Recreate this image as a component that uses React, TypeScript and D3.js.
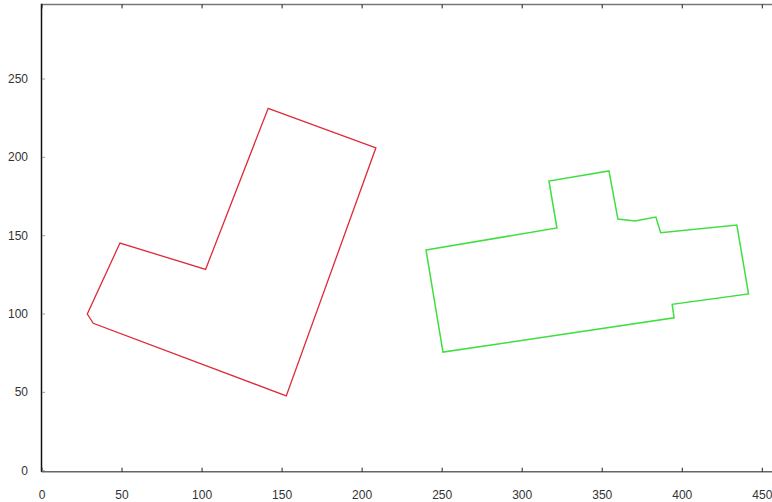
import React from "react";
import * as d3 from "d3";

const xTicks = [0, 50, 100, 150, 200, 250, 300, 350, 400, 450];
const yTicks = [0, 50, 100, 150, 200, 250];

const redX = [141.3, 208.6, 152.6, 32.0, 28.3, 48.7, 102.2];
const redY = [231.3, 206.1, 47.7, 94.1, 100.0, 145.3, 128.5];

const greenX = [239.9, 321.7, 316.7, 354.2, 359.8, 370.4, 383.5, 386.5, 434.1, 441.4, 393.7, 394.9, 250.5];
const greenY = [140.9, 154.9, 184.9, 191.3, 160.6, 159.3, 161.9, 151.9, 156.8, 112.8, 106.2, 97.6, 75.7];

const W = 772;
const H = 502;

export default function App() {
  const x = d3.scaleLinear().domain([0, 450]).range([42, 762.3]);
  const y = d3.scaleLinear().domain([0, 250]).range([470.7, 79]);
  const yTop = y(297.6);
  const yBot = y(0) + 1;

  const line = d3
    .line<[number, number]>()
    .x((d) => x(d[0]))
    .y((d) => y(d[1]))
    .curve(d3.curveLinearClosed);

  const red: [number, number][] = redX.map((v, i) => [v, redY[i]]);
  const green: [number, number][] = greenX.map((v, i) => [v, greenY[i]]);

  return (
    <svg
      width={W}
      height={H}
      style={{ position: "absolute", left: 0, top: 0, background: "#fff" }}
      fontFamily="'Liberation Sans', Arial, sans-serif"
    >
      {/* frame lines */}
      <line x1={x(0) - 0.5} x2={W} y1={yTop} y2={yTop} stroke="#777" strokeWidth={1.5} />
      <line x1={x(0) - 0.5} x2={W} y1={yBot} y2={yBot} stroke="#666" strokeWidth={1.5} />
      <line x1={x(0) - 0.5} x2={x(0) - 0.5} y1={yTop - 0.7} y2={yBot} stroke="#111" strokeWidth={1.5} />

      {/* x ticks */}
      {xTicks.map((t) => (
        <g key={"xt" + t}>
          <line x1={x(t)} x2={x(t)} y1={yBot} y2={yBot - 4} stroke="#222" strokeWidth={1} />
          <line x1={x(t)} x2={x(t)} y1={yTop} y2={yTop + 4} stroke="#222" strokeWidth={1} />
          <text x={x(t)} y={y(0) + 28.5} textAnchor="middle" fontSize={12} fill="#333">
            {t}
          </text>
        </g>
      ))}

      {/* y ticks */}
      {yTicks.map((t) => (
        <g key={"yt" + t}>
          <line x1={x(0)} x2={x(0) + 3} y1={y(t)} y2={y(t)} stroke="#999" strokeWidth={1} />
          <text x={28} y={y(t) + 4} textAnchor="end" fontSize={12} fill="#333">
            {t}
          </text>
        </g>
      ))}

      <path d={line(red) || ""} fill="none" stroke="#dd2a3a" strokeWidth={1.3} />
      <path d={line(green) || ""} fill="none" stroke="#3fdf3f" strokeWidth={1.5} />
    </svg>
  );
}
